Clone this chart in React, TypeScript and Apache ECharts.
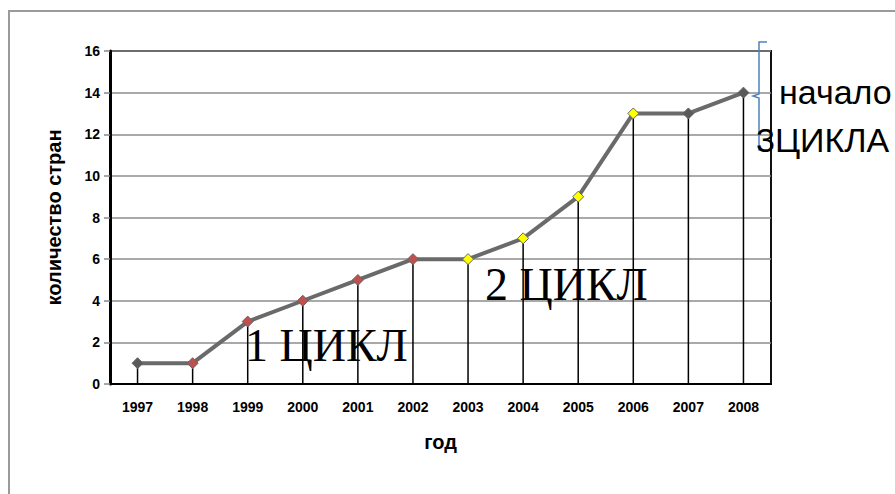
import React, { useEffect, useRef } from "react";
import * as echarts from "echarts";

const years = ["1997", "1998", "1999", "2000", "2001", "2002", "2003", "2004", "2005", "2006", "2007", "2008"];
const countries = [1, 1, 3, 4, 5, 6, 6, 7, 9, 13, 13, 14];
const markerColors = ["#5a5a5a", "#c0504d", "#c0504d", "#c0504d", "#c0504d", "#c0504d", "#ffff00", "#ffff00", "#ffff00", "#ffff00", "#5a5a5a", "#5a5a5a"];
const yTicks = { min: 0, max: 16, interval: 2 };
const labels = {
  cycle1: "1 ЦИКЛ",
  cycle2: "2 ЦИКЛ",
  start: "начало",
  cycle3: "3ЦИКЛА",
  xName: "год",
  yName: "количество стран",
};

export default function App() {
  const ref = useRef<HTMLDivElement>(null);
  useEffect(() => {
    if (!ref.current) return;
    const chart = echarts.init(ref.current, undefined, { renderer: "svg" });
    const sans = "'Liberation Sans', Arial, sans-serif";
    const serif = "'Liberation Serif', 'Times New Roman', serif";
    chart.setOption({
      animation: false,
      backgroundColor: "#ffffff",
      grid: {
        left: 110,
        right: 124,
        top: 51,
        bottom: 110,
        show: true,
        borderColor: "#111",
        borderWidth: 2,
        backgroundColor: "transparent",
      },
      xAxis: {
        type: "category",
        data: years,
        boundaryGap: true,
        name: labels.xName,
        nameLocation: "middle",
        nameGap: 48,
        nameTextStyle: { fontFamily: sans, fontWeight: "bold", fontSize: 20, color: "#000" },
        axisLine: { show: true, lineStyle: { color: "#000", width: 2 } },
        axisTick: { show: false },
        axisLabel: { fontFamily: sans, fontWeight: "bold", fontSize: 14, color: "#000", margin: 16 },
        splitLine: { show: false },
      },
      yAxis: {
        type: "value",
        min: yTicks.min,
        max: yTicks.max,
        interval: yTicks.interval,
        name: labels.yName,
        nameLocation: "middle",
        nameGap: 46,
        nameRotate: 90,
        nameTextStyle: { fontFamily: sans, fontWeight: "bold", fontSize: 20, color: "#000" },
        axisLine: { show: true, lineStyle: { color: "#000", width: 3 } },
        axisTick: { show: true, length: 6, lineStyle: { color: "#888", width: 1.5 } },
        axisLabel: { fontFamily: sans, fontWeight: "bold", fontSize: 14, color: "#000", margin: 10 },
        splitLine: { show: true, lineStyle: { color: "#8c8c8c", width: 1.5 } },
      },
      series: [
        {
          type: "bar",
          data: countries,
          barWidth: 1.5,
          itemStyle: { color: "#000" },
          z: 2,
          silent: true,
        },
        {
          type: "line",
          data: countries.map((v, i) => ({
            value: v,
            itemStyle: { color: markerColors[i], borderColor: "#666", borderWidth: 1 },
          })),
          symbol: "diamond",
          symbolSize: [11, 11],
          showAllSymbol: true,
          lineStyle: { color: "#6a6a6a", width: 4 },
          z: 3,
        },
      ],
      graphic: [
        {
          type: "rect",
          shape: { x: 9, y: 11, width: 1000, height: 1000 },
          style: { fill: "none", stroke: "#9a9a9a", lineWidth: 2 },
          z: 0,
          silent: true,
        },
        {
          type: "text",
          left: 245,
          top: 322,
          style: { text: labels.cycle1, font: `46px ${serif}`, fill: "#000" },
          z: 10,
        },
        {
          type: "text",
          left: 485,
          top: 261,
          style: { text: labels.cycle2, font: `46px ${serif}`, fill: "#000" },
          z: 10,
        },
        {
          type: "polyline",
          shape: { points: [[767, 42], [759, 42], [759, 94], [753, 96], [759, 98], [759, 150], [767, 150]] },
          style: { stroke: "#4f81bd", lineWidth: 1.5, fill: "none" },
          z: 10,
        },
        {
          type: "text",
          left: 779,
          top: 75,
          style: { text: labels.start, font: `34px ${sans}`, fill: "#000" },
          z: 11,
        },
        {
          type: "text",
          left: 756,
          top: 123,
          style: { text: labels.cycle3, font: `34px ${sans}`, fill: "#000" },
          z: 11,
        },
      ],
    });
    return () => chart.dispose();
  }, []);
  return (
    <div
      ref={ref}
      style={{ position: "fixed", left: 0, top: 0, width: 895, height: 494, background: "#fff" }}
    />
  );
}
